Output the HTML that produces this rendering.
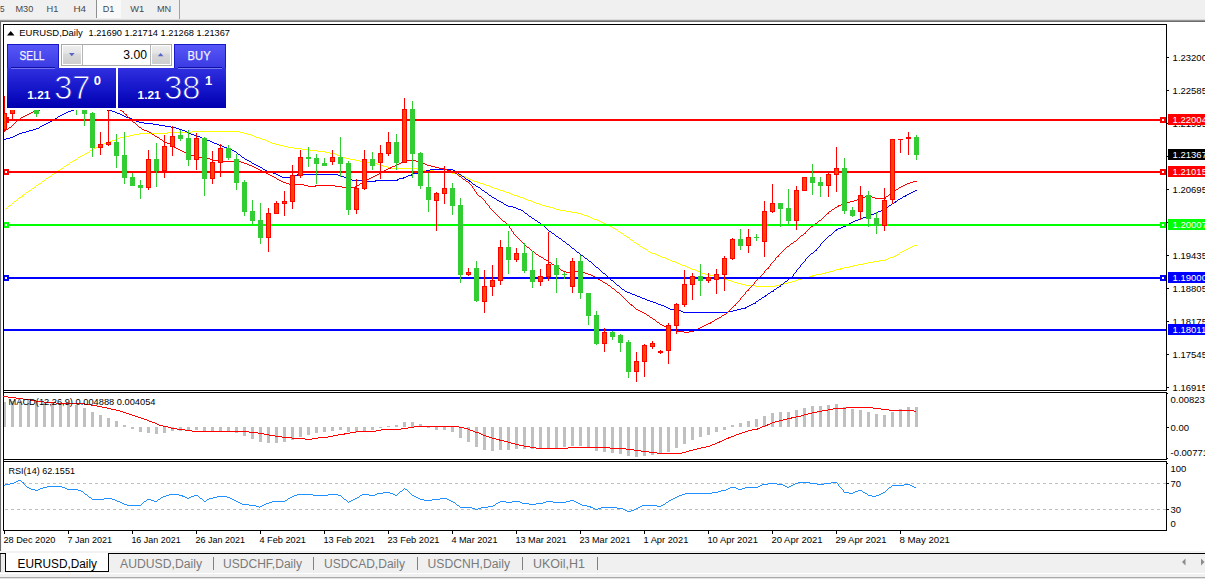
<!DOCTYPE html>
<html><head><meta charset="utf-8"><title>EURUSD,Daily</title>
<style>
html,body{margin:0;padding:0;background:#fff;}
body{width:1205px;height:579px;overflow:hidden;font-family:"Liberation Sans",sans-serif;}
svg{display:block;font-family:"Liberation Sans",sans-serif;}
svg rect{shape-rendering:crispEdges;}
</style></head><body>
<svg width="1205" height="579" viewBox="0 0 1205 579">
<rect x="0" y="0" width="1205" height="579" fill="#ffffff"/>
<rect x="0" y="0" width="1205" height="19" fill="#f0f0f0"/>
<rect x="0" y="19" width="1205" height="1" fill="#dcdcdc"/>
<rect x="0" y="20" width="1205" height="1" fill="#969696"/>
<rect x="0" y="21" width="1205" height="1" fill="#6c6c6c"/>
<rect x="0" y="21" width="1" height="530" fill="#6c6c6c"/>
<rect x="1" y="22" width="1" height="529" fill="#f6f6f6"/>
<rect x="97" y="0" width="24" height="18" fill="#f9f9f9"/>
<rect x="96" y="0" width="1" height="18" fill="#8f8f8f"/>
<rect x="179" y="0" width="1" height="19" fill="#a0a0a0"/>
<text x="0" y="11.8" font-size="9.5" fill="#484848" textLength="4.6" lengthAdjust="spacingAndGlyphs">5</text>
<text x="15.5" y="11.8" font-size="9.5" fill="#484848" textLength="17.8" lengthAdjust="spacingAndGlyphs">M30</text>
<text x="46.5" y="11.8" font-size="9.5" fill="#484848" textLength="11.8" lengthAdjust="spacingAndGlyphs">H1</text>
<text x="73.5" y="11.8" font-size="9.5" fill="#484848" textLength="12.6" lengthAdjust="spacingAndGlyphs">H4</text>
<text x="102.7" y="11.8" font-size="9.5" fill="#484848" textLength="11.6" lengthAdjust="spacingAndGlyphs">D1</text>
<text x="130.2" y="11.8" font-size="9.5" fill="#484848" textLength="13.9" lengthAdjust="spacingAndGlyphs">W1</text>
<text x="156.9" y="11.8" font-size="9.5" fill="#484848" textLength="14.2" lengthAdjust="spacingAndGlyphs">MN</text>
<g id="main">
<g shape-rendering="crispEdges">
<path d="M192 131h48v1h-48zM167 132h25v1h-25zM240 132h4v1h-4zM139 133h29v1h-29zM244 133h3v1h-3zM134 134h5v1h-5zM247 134h4v1h-4zM129 135h5v1h-5zM251 135h3v1h-3zM125 136h4v1h-4zM254 136h2v1h-2zM120 137h5v1h-5zM256 137h3v1h-3zM118 138h2v1h-2zM259 138h3v1h-3zM115 139h3v1h-3zM262 139h3v1h-3zM112 140h4v1h-4zM265 140h2v1h-2zM110 141h2v1h-2zM267 141h3v1h-3zM107 142h3v1h-3zM270 142h2v1h-2zM104 143h3v1h-3zM272 143h3v1h-3zM102 144h2v1h-2zM275 144h4v1h-4zM100 145h2v1h-2zM279 145h5v1h-5zM98 146h2v1h-2zM284 146h4v1h-4zM96 147h2v1h-2zM288 147h6v1h-6zM94 148h2v1h-2zM294 148h8v1h-8zM92 149h2v1h-2zM302 149h8v1h-8zM90 150h3v1h-3zM310 150h7v1h-7zM89 151h1v1h-1zM317 151h8v1h-8zM87 152h2v1h-2zM325 152h5v1h-5zM85 153h2v1h-2zM330 153h5v1h-5zM84 154h1v1h-1zM335 154h2v1h-2zM82 155h2v1h-2zM337 155h3v1h-3zM80 156h2v1h-2zM340 156h2v1h-2zM78 157h2v1h-2zM342 157h3v1h-3zM77 158h1v1h-1zM345 158h5v1h-5zM75 159h2v1h-2zM350 159h5v1h-5zM73 160h3v1h-3zM355 160h5v1h-5zM72 161h1v1h-1zM360 161h6v1h-6zM70 162h2v1h-2zM366 162h6v1h-6zM69 163h1v1h-1zM372 163h5v1h-5zM67 164h2v1h-2zM377 164h3v1h-3zM66 165h1v1h-1zM380 165h3v1h-3zM64 166h2v1h-2zM383 166h4v1h-4zM63 167h1v1h-1zM387 167h5v1h-5zM61 168h2v1h-2zM392 168h25v1h-25zM60 169h1v1h-1zM417 169h5v1h-5zM58 170h2v1h-2zM422 170h12v1h-12zM57 171h1v1h-1zM434 171h9v1h-9zM55 172h2v1h-2zM443 172h9v1h-9zM54 173h2v1h-2zM452 173h5v1h-5zM52 174h2v1h-2zM457 174h3v1h-3zM51 175h1v1h-1zM460 175h2v1h-2zM49 176h2v1h-2zM462 176h3v1h-3zM48 177h1v1h-1zM465 177h2v1h-2zM46 178h2v1h-2zM467 178h2v1h-2zM45 179h1v1h-1zM469 179h3v1h-3zM44 180h1v1h-1zM472 180h2v1h-2zM42 181h2v1h-2zM474 181h3v1h-3zM41 182h1v1h-1zM477 182h3v1h-3zM39 183h2v1h-2zM480 183h3v1h-3zM38 184h1v1h-1zM483 184h3v1h-3zM36 185h2v1h-2zM486 185h3v1h-3zM35 186h1v1h-1zM489 186h2v1h-2zM34 187h2v1h-2zM491 187h3v1h-3zM32 188h2v1h-2zM494 188h3v1h-3zM31 189h1v1h-1zM497 189h3v1h-3zM29 190h2v1h-2zM500 190h3v1h-3zM28 191h1v1h-1zM503 191h3v1h-3zM26 192h2v1h-2zM506 192h3v1h-3zM25 193h1v1h-1zM509 193h2v1h-2zM23 194h2v1h-2zM511 194h3v1h-3zM22 195h1v1h-1zM514 195h3v1h-3zM21 196h2v1h-2zM517 196h3v1h-3zM19 197h2v1h-2zM520 197h3v1h-3zM18 198h1v1h-1zM523 198h2v1h-2zM17 199h1v1h-1zM525 199h3v1h-3zM16 200h1v1h-1zM528 200h3v1h-3zM14 201h2v1h-2zM531 201h2v1h-2zM13 202h1v1h-1zM533 202h3v1h-3zM12 203h1v1h-1zM536 203h3v1h-3zM11 204h1v1h-1zM539 204h3v1h-3zM9 205h2v1h-2zM542 205h3v1h-3zM8 206h1v1h-1zM545 206h4v1h-4zM7 207h1v1h-1zM549 207h4v1h-4zM6 208h1v1h-1zM553 208h3v1h-3zM5 209h1v1h-1zM556 209h4v1h-4zM560 210h6v1h-6zM566 211h5v1h-5zM571 212h6v1h-6zM577 213h4v1h-4zM581 214h3v1h-3zM584 215h3v1h-3zM587 216h3v1h-3zM590 217h2v1h-2zM592 218h2v1h-2zM594 219h3v1h-3zM597 220h2v1h-2zM599 221h2v1h-2zM601 222h2v1h-2zM603 223h3v1h-3zM606 224h2v1h-2zM608 225h2v1h-2zM610 226h2v1h-2zM612 227h1v1h-1zM613 228h2v1h-2zM615 229h2v1h-2zM617 230h1v1h-1zM618 231h2v1h-2zM620 232h1v1h-1zM621 233h2v1h-2zM623 234h1v1h-1zM624 235h2v1h-2zM626 236h1v1h-1zM627 237h2v1h-2zM629 238h1v1h-1zM630 239h1v1h-1zM631 240h2v1h-2zM633 241h1v1h-1zM634 242h2v1h-2zM636 243h1v1h-1zM637 244h2v1h-2zM639 245h1v1h-1zM914 245h3v1h-3zM640 246h2v1h-2zM912 246h2v1h-2zM642 247h1v1h-1zM910 247h2v1h-2zM643 248h2v1h-2zM908 248h2v1h-2zM645 249h2v1h-2zM906 249h2v1h-2zM647 250h1v1h-1zM904 250h2v1h-2zM648 251h2v1h-2zM902 251h2v1h-2zM650 252h2v1h-2zM900 252h2v1h-2zM652 253h3v1h-3zM899 253h1v1h-1zM655 254h2v1h-2zM897 254h2v1h-2zM657 255h3v1h-3zM895 255h2v1h-2zM660 256h2v1h-2zM893 256h3v1h-3zM662 257h3v1h-3zM890 257h3v1h-3zM665 258h2v1h-2zM888 258h2v1h-2zM667 259h3v1h-3zM885 259h3v1h-3zM670 260h2v1h-2zM879 260h7v1h-7zM672 261h3v1h-3zM873 261h6v1h-6zM675 262h2v1h-2zM868 262h5v1h-5zM677 263h3v1h-3zM863 263h5v1h-5zM680 264h2v1h-2zM858 264h5v1h-5zM682 265h3v1h-3zM853 265h5v1h-5zM685 266h2v1h-2zM849 266h4v1h-4zM687 267h3v1h-3zM844 267h5v1h-5zM690 268h2v1h-2zM840 268h4v1h-4zM692 269h3v1h-3zM836 269h5v1h-5zM695 270h2v1h-2zM833 270h3v1h-3zM697 271h3v1h-3zM829 271h4v1h-4zM700 272h2v1h-2zM825 272h4v1h-4zM702 273h3v1h-3zM821 273h5v1h-5zM705 274h5v1h-5zM816 274h5v1h-5zM710 275h5v1h-5zM812 275h4v1h-4zM715 276h3v1h-3zM809 276h4v1h-4zM718 277h4v1h-4zM805 277h4v1h-4zM722 278h3v1h-3zM802 278h3v1h-3zM725 279h3v1h-3zM798 279h4v1h-4zM728 280h3v1h-3zM795 280h3v1h-3zM731 281h3v1h-3zM792 281h3v1h-3zM734 282h3v1h-3zM788 282h4v1h-4zM737 283h4v1h-4zM784 283h4v1h-4zM741 284h4v1h-4zM780 284h4v1h-4zM745 285h10v1h-10zM775 285h6v1h-6zM755 286h20v1h-20z" fill="#ffff00"/>
<path d="M78 106h3v1h-3zM77 107h1v1h-1zM75 108h2v1h-2zM74 109h1v1h-1zM71 110h3v1h-3zM68 111h3v1h-3zM66 112h2v1h-2zM64 113h2v1h-2zM62 114h2v1h-2zM60 115h2v1h-2zM58 116h2v1h-2zM57 117h1v1h-1zM55 118h2v1h-2zM53 119h2v1h-2zM52 120h1v1h-1zM50 121h2v1h-2zM48 122h2v1h-2zM46 123h2v1h-2zM44 124h2v1h-2zM42 125h2v1h-2zM40 126h2v1h-2zM39 127h1v1h-1zM36 128h3v1h-3zM33 129h3v1h-3zM29 130h4v1h-4zM26 131h3v1h-3zM22 132h4v1h-4zM19 133h3v1h-3zM17 134h2v1h-2zM15 135h2v1h-2zM13 136h2v1h-2zM10 137h3v1h-3zM6 138h4v1h-4zM4 139h2v1h-2z" fill="#0000ff"/>
<path d="M100 106h2v1h-2zM102 107h1v1h-1zM103 108h2v1h-2zM105 109h2v1h-2zM107 110h5v1h-5zM112 111h3v1h-3zM115 112h2v1h-2zM117 113h3v1h-3zM120 114h2v1h-2zM122 115h2v1h-2zM124 116h2v1h-2zM126 117h3v1h-3zM129 118h3v1h-3zM131 119h3v1h-3zM134 120h2v1h-2zM136 121h3v1h-3zM139 122h5v1h-5zM144 123h9v1h-9zM153 124h6v1h-6zM159 125h6v1h-6zM165 126h6v1h-6zM171 127h5v1h-5zM176 128h3v1h-3zM179 129h3v1h-3zM182 130h3v1h-3zM185 131h2v1h-2zM187 132h2v1h-2zM189 133h2v1h-2zM191 134h3v1h-3zM194 135h3v1h-3zM197 136h3v1h-3zM200 137h2v1h-2zM202 138h3v1h-3zM205 139h2v1h-2zM207 140h3v1h-3zM210 141h2v1h-2zM212 142h2v1h-2zM214 143h3v1h-3zM217 144h2v1h-2zM219 145h3v1h-3zM222 146h2v1h-2zM224 147h3v1h-3zM227 148h2v1h-2zM229 149h3v1h-3zM232 150h2v1h-2zM234 151h2v1h-2zM236 152h1v1h-1zM237 153h1v1h-1zM238 154h2v1h-2zM240 155h1v1h-1zM241 156h1v1h-1zM242 157h2v1h-2zM244 158h1v1h-1zM245 159h2v1h-2zM247 160h2v1h-2zM249 161h2v1h-2zM251 162h1v1h-1zM252 163h2v1h-2zM254 164h2v1h-2zM256 165h2v1h-2zM258 166h2v1h-2zM260 167h2v1h-2zM262 168h1v1h-1zM263 169h2v1h-2zM430 169h23v1h-23zM265 170h2v1h-2zM426 170h4v1h-4zM453 170h2v1h-2zM267 171h3v1h-3zM422 171h4v1h-4zM455 171h2v1h-2zM270 172h3v1h-3zM419 172h3v1h-3zM457 172h1v1h-1zM273 173h3v1h-3zM413 173h6v1h-6zM458 173h1v1h-1zM276 174h2v1h-2zM297 174h41v1h-41zM411 174h2v1h-2zM459 174h2v1h-2zM278 175h2v1h-2zM294 175h4v1h-4zM338 175h3v1h-3zM408 175h4v1h-4zM461 175h1v1h-1zM280 176h2v1h-2zM291 176h3v1h-3zM341 176h3v1h-3zM406 176h2v1h-2zM462 176h2v1h-2zM282 177h9v1h-9zM344 177h3v1h-3zM403 177h3v1h-3zM464 177h1v1h-1zM347 178h2v1h-2zM399 178h5v1h-5zM465 178h1v1h-1zM349 179h3v1h-3zM397 179h2v1h-2zM466 179h2v1h-2zM352 180h10v1h-10zM375 180h23v1h-23zM468 180h2v1h-2zM362 181h14v1h-14zM469 181h2v1h-2zM471 182h1v1h-1zM472 183h1v1h-1zM473 184h2v1h-2zM475 185h1v1h-1zM476 186h2v1h-2zM478 187h2v1h-2zM480 188h1v1h-1zM481 189h1v1h-1zM482 190h2v1h-2zM915 190h2v1h-2zM484 191h1v1h-1zM913 191h2v1h-2zM485 192h2v1h-2zM911 192h2v1h-2zM487 193h1v1h-1zM909 193h2v1h-2zM488 194h1v1h-1zM907 194h2v1h-2zM489 195h2v1h-2zM905 195h2v1h-2zM491 196h1v1h-1zM903 196h3v1h-3zM492 197h2v1h-2zM902 197h1v1h-1zM494 198h2v1h-2zM900 198h2v1h-2zM496 199h1v1h-1zM898 199h2v1h-2zM497 200h2v1h-2zM897 200h1v1h-1zM499 201h2v1h-2zM895 201h2v1h-2zM501 202h2v1h-2zM894 202h2v1h-2zM503 203h1v1h-1zM892 203h2v1h-2zM504 204h2v1h-2zM891 204h1v1h-1zM506 205h2v1h-2zM889 205h2v1h-2zM508 206h5v1h-5zM888 206h1v1h-1zM513 207h3v1h-3zM886 207h2v1h-2zM516 208h2v1h-2zM885 208h1v1h-1zM518 209h3v1h-3zM883 209h3v1h-3zM521 210h2v1h-2zM881 210h2v1h-2zM523 211h1v1h-1zM878 211h3v1h-3zM524 212h1v1h-1zM876 212h2v1h-2zM525 213h2v1h-2zM874 213h2v1h-2zM527 214h1v1h-1zM871 214h3v1h-3zM528 215h1v1h-1zM869 215h2v1h-2zM529 216h2v1h-2zM866 216h3v1h-3zM531 217h1v1h-1zM863 217h3v1h-3zM532 218h2v1h-2zM861 218h2v1h-2zM534 219h1v1h-1zM858 219h3v1h-3zM535 220h2v1h-2zM855 220h3v1h-3zM537 221h1v1h-1zM853 221h2v1h-2zM538 222h2v1h-2zM851 222h2v1h-2zM540 223h1v1h-1zM849 223h2v1h-2zM541 224h1v1h-1zM847 224h2v1h-2zM542 225h2v1h-2zM845 225h2v1h-2zM544 226h1v1h-1zM843 226h3v1h-3zM545 227h1v1h-1zM841 227h2v1h-2zM546 228h1v1h-1zM838 228h3v1h-3zM547 229h1v1h-1zM836 229h2v1h-2zM548 230h1v1h-1zM835 230h2v1h-2zM549 231h2v1h-2zM834 231h1v1h-1zM551 232h1v1h-1zM833 232h1v1h-1zM552 233h2v1h-2zM832 233h1v1h-1zM554 234h1v1h-1zM831 234h1v1h-1zM555 235h1v1h-1zM829 235h2v1h-2zM556 236h2v1h-2zM828 236h1v1h-1zM558 237h1v1h-1zM827 237h1v1h-1zM559 238h2v1h-2zM826 238h1v1h-1zM561 239h1v1h-1zM825 239h1v1h-1zM562 240h1v1h-1zM824 240h1v1h-1zM563 241h2v1h-2zM823 241h1v1h-1zM565 242h1v1h-1zM822 242h1v1h-1zM566 243h1v1h-1zM821 243h1v1h-1zM567 244h2v1h-2zM820 244h1v1h-1zM569 245h1v1h-1zM820 245h1v1h-1zM570 246h1v1h-1zM819 246h1v1h-1zM571 247h1v1h-1zM818 247h1v1h-1zM572 248h2v1h-2zM817 248h1v1h-1zM574 249h1v1h-1zM816 249h1v1h-1zM575 250h1v1h-1zM815 250h2v1h-2zM576 251h1v1h-1zM814 251h1v1h-1zM577 252h2v1h-2zM813 252h1v1h-1zM579 253h1v1h-1zM811 253h2v1h-2zM580 254h1v1h-1zM810 254h1v1h-1zM581 255h2v1h-2zM809 255h1v1h-1zM583 256h1v1h-1zM808 256h1v1h-1zM584 257h1v1h-1zM807 257h1v1h-1zM585 258h2v1h-2zM806 258h1v1h-1zM587 259h1v1h-1zM805 259h1v1h-1zM588 260h1v1h-1zM805 260h1v1h-1zM589 261h2v1h-2zM804 261h1v1h-1zM591 262h1v1h-1zM803 262h1v1h-1zM592 263h1v1h-1zM802 263h1v1h-1zM593 264h1v1h-1zM801 264h1v1h-1zM594 265h1v1h-1zM800 265h1v1h-1zM595 266h1v1h-1zM800 266h1v1h-1zM596 267h2v1h-2zM799 267h1v1h-1zM598 268h1v1h-1zM798 268h1v1h-1zM599 269h1v1h-1zM797 269h1v1h-1zM600 270h1v1h-1zM796 270h1v1h-1zM601 271h1v1h-1zM796 271h1v1h-1zM602 272h1v1h-1zM795 272h1v1h-1zM603 273h2v1h-2zM794 273h1v1h-1zM605 274h1v1h-1zM793 274h1v1h-1zM606 275h1v1h-1zM793 275h1v1h-1zM607 276h1v1h-1zM792 276h1v1h-1zM608 277h1v1h-1zM791 277h2v1h-2zM609 278h1v1h-1zM789 278h2v1h-2zM610 279h1v1h-1zM788 279h1v1h-1zM611 280h2v1h-2zM787 280h1v1h-1zM613 281h1v1h-1zM785 281h2v1h-2zM614 282h1v1h-1zM784 282h1v1h-1zM615 283h1v1h-1zM783 283h1v1h-1zM616 284h1v1h-1zM781 284h2v1h-2zM617 285h2v1h-2zM780 285h1v1h-1zM619 286h1v1h-1zM779 286h2v1h-2zM620 287h1v1h-1zM777 287h2v1h-2zM621 288h1v1h-1zM776 288h1v1h-1zM622 289h2v1h-2zM774 289h2v1h-2zM624 290h1v1h-1zM773 290h1v1h-1zM625 291h2v1h-2zM771 291h3v1h-3zM627 292h3v1h-3zM770 292h1v1h-1zM630 293h2v1h-2zM768 293h2v1h-2zM632 294h3v1h-3zM767 294h1v1h-1zM635 295h2v1h-2zM765 295h2v1h-2zM637 296h3v1h-3zM764 296h2v1h-2zM640 297h2v1h-2zM762 297h2v1h-2zM642 298h3v1h-3zM761 298h1v1h-1zM645 299h2v1h-2zM759 299h2v1h-2zM647 300h3v1h-3zM758 300h1v1h-1zM650 301h3v1h-3zM756 301h2v1h-2zM653 302h3v1h-3zM755 302h1v1h-1zM656 303h2v1h-2zM753 303h3v1h-3zM658 304h3v1h-3zM751 304h2v1h-2zM661 305h3v1h-3zM749 305h2v1h-2zM664 306h2v1h-2zM747 306h2v1h-2zM666 307h2v1h-2zM745 307h2v1h-2zM668 308h2v1h-2zM741 308h5v1h-5zM670 309h5v1h-5zM737 309h4v1h-4zM675 310h6v1h-6zM733 310h4v1h-4zM681 311h2v1h-2zM728 311h5v1h-5zM683 312h45v1h-45z" fill="#0000ff"/>
<path d="M45 107h4v1h-4zM43 108h2v1h-2zM40 109h3v1h-3zM37 110h3v1h-3zM33 111h4v1h-4zM31 112h2v1h-2zM29 113h2v1h-2zM27 114h2v1h-2zM25 115h2v1h-2zM23 116h2v1h-2zM21 117h2v1h-2zM20 118h1v1h-1zM18 119h2v1h-2zM17 120h1v1h-1zM16 121h1v1h-1zM15 122h1v1h-1zM14 123h1v1h-1zM13 124h1v1h-1zM12 125h1v1h-1zM11 126h1v1h-1zM9 127h2v1h-2zM8 128h1v1h-1zM6 129h2v1h-2zM5 130h1v1h-1zM4 131h1v1h-1z" fill="#ff0000"/>
<path d="M112 105h2v1h-2zM114 106h1v1h-1zM115 107h2v1h-2zM117 108h1v1h-1zM118 109h2v1h-2zM120 110h2v1h-2zM122 111h2v1h-2zM123 112h1v1h-1zM124 113h1v1h-1zM125 114h2v1h-2zM126 115h1v1h-1zM127 116h1v1h-1zM128 117h2v1h-2zM129 118h1v1h-1zM130 119h1v1h-1zM131 120h1v1h-1zM132 121h1v1h-1zM133 122h2v1h-2zM135 123h1v1h-1zM136 124h1v1h-1zM137 125h1v1h-1zM138 126h1v1h-1zM139 127h2v1h-2zM141 128h1v1h-1zM142 129h2v1h-2zM144 130h3v1h-3zM147 131h2v1h-2zM149 132h2v1h-2zM151 133h1v1h-1zM152 134h2v1h-2zM154 135h1v1h-1zM155 136h2v1h-2zM157 137h2v1h-2zM159 138h1v1h-1zM160 139h2v1h-2zM162 140h1v1h-1zM163 141h2v1h-2zM165 142h2v1h-2zM167 143h3v1h-3zM170 144h1v1h-1zM171 145h2v1h-2zM173 146h1v1h-1zM174 147h2v1h-2zM176 148h2v1h-2zM178 149h2v1h-2zM180 150h2v1h-2zM182 151h2v1h-2zM184 152h3v1h-3zM187 153h1v1h-1zM188 154h2v1h-2zM190 155h6v1h-6zM196 156h1v1h-1zM197 157h9v1h-9zM206 158h4v1h-4zM210 159h2v1h-2zM212 160h10v1h-10zM406 160h10v1h-10zM222 161h19v1h-19zM402 161h4v1h-4zM416 161h3v1h-3zM241 162h3v1h-3zM401 162h2v1h-2zM419 162h3v1h-3zM244 163h3v1h-3zM399 163h2v1h-2zM422 163h3v1h-3zM247 164h2v1h-2zM397 164h2v1h-2zM425 164h2v1h-2zM249 165h3v1h-3zM395 165h2v1h-2zM427 165h4v1h-4zM252 166h2v1h-2zM392 166h3v1h-3zM431 166h4v1h-4zM254 167h2v1h-2zM390 167h2v1h-2zM435 167h4v1h-4zM256 168h2v1h-2zM388 168h3v1h-3zM439 168h5v1h-5zM258 169h2v1h-2zM386 169h2v1h-2zM443 169h4v1h-4zM260 170h2v1h-2zM384 170h2v1h-2zM447 170h4v1h-4zM262 171h2v1h-2zM383 171h1v1h-1zM451 171h3v1h-3zM264 172h2v1h-2zM381 172h2v1h-2zM454 172h1v1h-1zM266 173h2v1h-2zM379 173h2v1h-2zM455 173h2v1h-2zM268 174h2v1h-2zM377 174h2v1h-2zM457 174h1v1h-1zM270 175h2v1h-2zM375 175h2v1h-2zM458 175h1v1h-1zM272 176h2v1h-2zM373 176h2v1h-2zM459 176h2v1h-2zM274 177h2v1h-2zM371 177h2v1h-2zM461 177h1v1h-1zM276 178h1v1h-1zM369 178h2v1h-2zM462 178h1v1h-1zM277 179h2v1h-2zM367 179h2v1h-2zM463 179h2v1h-2zM279 180h2v1h-2zM366 180h1v1h-1zM465 180h1v1h-1zM281 181h2v1h-2zM364 181h2v1h-2zM466 181h2v1h-2zM913 181h4v1h-4zM283 182h3v1h-3zM362 182h2v1h-2zM468 182h1v1h-1zM910 182h3v1h-3zM286 183h3v1h-3zM360 183h3v1h-3zM469 183h1v1h-1zM907 183h3v1h-3zM289 184h15v1h-15zM359 184h1v1h-1zM470 184h1v1h-1zM905 184h2v1h-2zM304 185h4v1h-4zM315 185h20v1h-20zM357 185h2v1h-2zM471 185h1v1h-1zM903 185h2v1h-2zM308 186h8v1h-8zM335 186h7v1h-7zM355 186h2v1h-2zM472 186h1v1h-1zM901 186h2v1h-2zM342 187h14v1h-14zM472 187h1v1h-1zM899 187h2v1h-2zM473 188h1v1h-1zM898 188h1v1h-1zM474 189h1v1h-1zM896 189h2v1h-2zM474 190h1v1h-1zM895 190h1v1h-1zM475 191h1v1h-1zM893 191h2v1h-2zM476 192h1v1h-1zM892 192h1v1h-1zM476 193h1v1h-1zM891 193h2v1h-2zM477 194h1v1h-1zM889 194h2v1h-2zM478 195h1v1h-1zM867 195h2v1h-2zM888 195h1v1h-1zM479 196h2v1h-2zM865 196h2v1h-2zM869 196h3v1h-3zM886 196h2v1h-2zM481 197h1v1h-1zM862 197h3v1h-3zM872 197h3v1h-3zM885 197h1v1h-1zM482 198h1v1h-1zM860 198h2v1h-2zM875 198h11v1h-11zM483 199h1v1h-1zM857 199h4v1h-4zM484 200h1v1h-1zM854 200h3v1h-3zM485 201h1v1h-1zM850 201h4v1h-4zM485 202h1v1h-1zM847 202h3v1h-3zM486 203h1v1h-1zM844 203h3v1h-3zM487 204h1v1h-1zM841 204h3v1h-3zM488 205h1v1h-1zM838 205h3v1h-3zM489 206h1v1h-1zM837 206h2v1h-2zM489 207h1v1h-1zM835 207h2v1h-2zM490 208h1v1h-1zM834 208h1v1h-1zM491 209h1v1h-1zM832 209h2v1h-2zM492 210h1v1h-1zM831 210h1v1h-1zM493 211h1v1h-1zM829 211h2v1h-2zM494 212h1v1h-1zM828 212h1v1h-1zM495 213h1v1h-1zM827 213h2v1h-2zM496 214h1v1h-1zM826 214h1v1h-1zM497 215h1v1h-1zM825 215h1v1h-1zM498 216h1v1h-1zM824 216h1v1h-1zM499 217h1v1h-1zM823 217h1v1h-1zM500 218h1v1h-1zM822 218h1v1h-1zM501 219h1v1h-1zM821 219h1v1h-1zM502 220h1v1h-1zM819 220h2v1h-2zM503 221h2v1h-2zM818 221h1v1h-1zM505 222h1v1h-1zM817 222h1v1h-1zM506 223h1v1h-1zM815 223h2v1h-2zM507 224h1v1h-1zM814 224h1v1h-1zM508 225h1v1h-1zM813 225h1v1h-1zM509 226h1v1h-1zM811 226h2v1h-2zM509 227h1v1h-1zM810 227h1v1h-1zM510 228h1v1h-1zM809 228h1v1h-1zM511 229h1v1h-1zM808 229h1v1h-1zM511 230h1v1h-1zM807 230h1v1h-1zM512 231h1v1h-1zM806 231h1v1h-1zM513 232h1v1h-1zM805 232h1v1h-1zM513 233h1v1h-1zM804 233h2v1h-2zM514 234h1v1h-1zM803 234h1v1h-1zM515 235h1v1h-1zM801 235h2v1h-2zM516 236h1v1h-1zM800 236h1v1h-1zM517 237h1v1h-1zM799 237h1v1h-1zM518 238h1v1h-1zM798 238h1v1h-1zM519 239h1v1h-1zM797 239h1v1h-1zM520 240h1v1h-1zM796 240h1v1h-1zM521 241h1v1h-1zM794 241h2v1h-2zM522 242h1v1h-1zM793 242h1v1h-1zM523 243h1v1h-1zM791 243h2v1h-2zM524 244h1v1h-1zM790 244h1v1h-1zM525 245h1v1h-1zM789 245h1v1h-1zM526 246h1v1h-1zM787 246h2v1h-2zM527 247h2v1h-2zM786 247h1v1h-1zM529 248h1v1h-1zM785 248h1v1h-1zM530 249h1v1h-1zM784 249h1v1h-1zM531 250h1v1h-1zM783 250h1v1h-1zM532 251h2v1h-2zM782 251h1v1h-1zM534 252h1v1h-1zM781 252h1v1h-1zM535 253h1v1h-1zM780 253h1v1h-1zM536 254h2v1h-2zM779 254h1v1h-1zM538 255h1v1h-1zM778 255h1v1h-1zM539 256h2v1h-2zM777 256h2v1h-2zM541 257h2v1h-2zM776 257h1v1h-1zM543 258h1v1h-1zM775 258h1v1h-1zM544 259h2v1h-2zM775 259h1v1h-1zM546 260h2v1h-2zM774 260h1v1h-1zM548 261h1v1h-1zM773 261h1v1h-1zM549 262h2v1h-2zM772 262h1v1h-1zM551 263h1v1h-1zM771 263h1v1h-1zM552 264h2v1h-2zM770 264h1v1h-1zM554 265h1v1h-1zM770 265h1v1h-1zM555 266h2v1h-2zM769 266h1v1h-1zM557 267h1v1h-1zM768 267h1v1h-1zM558 268h2v1h-2zM767 268h2v1h-2zM560 269h1v1h-1zM766 269h1v1h-1zM561 270h2v1h-2zM765 270h1v1h-1zM563 271h3v1h-3zM570 271h10v1h-10zM764 271h1v1h-1zM566 272h4v1h-4zM580 272h5v1h-5zM764 272h1v1h-1zM585 273h3v1h-3zM763 273h1v1h-1zM588 274h3v1h-3zM762 274h1v1h-1zM591 275h2v1h-2zM761 275h1v1h-1zM593 276h2v1h-2zM760 276h1v1h-1zM595 277h1v1h-1zM759 277h2v1h-2zM596 278h2v1h-2zM758 278h1v1h-1zM598 279h2v1h-2zM757 279h1v1h-1zM600 280h2v1h-2zM756 280h1v1h-1zM602 281h1v1h-1zM755 281h1v1h-1zM603 282h2v1h-2zM754 282h1v1h-1zM605 283h2v1h-2zM754 283h1v1h-1zM607 284h1v1h-1zM753 284h1v1h-1zM608 285h2v1h-2zM752 285h1v1h-1zM610 286h1v1h-1zM751 286h1v1h-1zM611 287h1v1h-1zM750 287h1v1h-1zM612 288h2v1h-2zM749 288h1v1h-1zM614 289h1v1h-1zM748 289h1v1h-1zM615 290h1v1h-1zM747 290h2v1h-2zM616 291h1v1h-1zM746 291h1v1h-1zM617 292h2v1h-2zM745 292h1v1h-1zM619 293h1v1h-1zM745 293h1v1h-1zM620 294h1v1h-1zM744 294h1v1h-1zM621 295h1v1h-1zM743 295h1v1h-1zM622 296h1v1h-1zM742 296h1v1h-1zM623 297h1v1h-1zM741 297h1v1h-1zM624 298h1v1h-1zM740 298h1v1h-1zM625 299h1v1h-1zM740 299h1v1h-1zM626 300h1v1h-1zM739 300h1v1h-1zM627 301h1v1h-1zM738 301h1v1h-1zM628 302h1v1h-1zM737 302h1v1h-1zM629 303h1v1h-1zM736 303h1v1h-1zM630 304h2v1h-2zM735 304h1v1h-1zM631 305h2v1h-2zM734 305h2v1h-2zM633 306h1v1h-1zM733 306h1v1h-1zM634 307h1v1h-1zM732 307h1v1h-1zM635 308h1v1h-1zM731 308h1v1h-1zM636 309h2v1h-2zM730 309h1v1h-1zM638 310h2v1h-2zM729 310h1v1h-1zM640 311h2v1h-2zM728 311h1v1h-1zM642 312h2v1h-2zM727 312h1v1h-1zM644 313h2v1h-2zM726 313h1v1h-1zM646 314h1v1h-1zM724 314h2v1h-2zM647 315h2v1h-2zM722 315h2v1h-2zM649 316h1v1h-1zM721 316h1v1h-1zM650 317h2v1h-2zM719 317h2v1h-2zM652 318h1v1h-1zM717 318h2v1h-2zM653 319h2v1h-2zM715 319h2v1h-2zM655 320h1v1h-1zM714 320h1v1h-1zM656 321h1v1h-1zM712 321h2v1h-2zM657 322h2v1h-2zM710 322h2v1h-2zM659 323h1v1h-1zM708 323h3v1h-3zM660 324h2v1h-2zM706 324h2v1h-2zM662 325h2v1h-2zM704 325h2v1h-2zM664 326h3v1h-3zM702 326h2v1h-2zM667 327h2v1h-2zM700 327h2v1h-2zM669 328h2v1h-2zM698 328h2v1h-2zM671 329h3v1h-3zM696 329h2v1h-2zM674 330h3v1h-3zM694 330h3v1h-3zM677 331h7v1h-7zM689 331h5v1h-5zM684 332h5v1h-5z" fill="#ff0000"/>
</g>
<rect x="4" y="119" width="1162" height="2" fill="#ff0000"/>
<rect x="3" y="117" width="6" height="6" fill="#ff0000"/>
<rect x="5" y="119" width="2" height="2" fill="#ffffff"/>
<rect x="1160" y="117" width="6" height="6" fill="#ff0000"/>
<rect x="1162" y="119" width="2" height="2" fill="#ffffff"/>
<rect x="4" y="171" width="1162" height="2" fill="#ff0000"/>
<rect x="3" y="169" width="6" height="6" fill="#ff0000"/>
<rect x="5" y="171" width="2" height="2" fill="#ffffff"/>
<rect x="1160" y="169" width="6" height="6" fill="#ff0000"/>
<rect x="1162" y="171" width="2" height="2" fill="#ffffff"/>
<rect x="4" y="224" width="1162" height="2" fill="#00ff00"/>
<rect x="3" y="222" width="6" height="6" fill="#00ff00"/>
<rect x="5" y="224" width="2" height="2" fill="#ffffff"/>
<rect x="1160" y="222" width="6" height="6" fill="#00ff00"/>
<rect x="1162" y="224" width="2" height="2" fill="#ffffff"/>
<rect x="4" y="277" width="1162" height="2" fill="#0000ff"/>
<rect x="3" y="275" width="6" height="6" fill="#0000ff"/>
<rect x="5" y="277" width="2" height="2" fill="#ffffff"/>
<rect x="1160" y="275" width="6" height="6" fill="#0000ff"/>
<rect x="1162" y="277" width="2" height="2" fill="#ffffff"/>
<rect x="4" y="329" width="1162" height="2" fill="#0000ff"/>
<rect x="4" y="96" width="1" height="36" fill="#ff0000"/>
<rect x="4" y="113" width="3" height="17" fill="#ff0000"/>
<rect x="4" y="114" width="2" height="15" fill="#ff4500"/>
<rect x="12" y="104" width="1" height="15" fill="#ff0000"/>
<rect x="10" y="106" width="5" height="8" fill="#ff0000"/>
<rect x="11" y="107" width="3" height="6" fill="#ff4500"/>
<rect x="36" y="105" width="1" height="12" fill="#32cd32"/>
<rect x="34" y="106" width="5" height="8" fill="#32cd32"/>
<rect x="76" y="100" width="1" height="15" fill="#32cd32"/>
<rect x="74" y="101" width="5" height="2" fill="#32cd32"/>
<rect x="84" y="100" width="1" height="26" fill="#32cd32"/>
<rect x="82" y="100" width="5" height="14" fill="#32cd32"/>
<rect x="92" y="112" width="1" height="45" fill="#32cd32"/>
<rect x="90" y="113" width="5" height="35" fill="#32cd32"/>
<rect x="100" y="132" width="1" height="23" fill="#ff0000"/>
<rect x="98" y="144" width="5" height="4" fill="#ff0000"/>
<rect x="99" y="145" width="3" height="2" fill="#ff4500"/>
<rect x="108" y="105" width="1" height="41" fill="#ff0000"/>
<rect x="106" y="142" width="5" height="3" fill="#ff0000"/>
<rect x="107" y="143" width="3" height="1" fill="#ff4500"/>
<rect x="116" y="134" width="1" height="34" fill="#32cd32"/>
<rect x="114" y="142" width="5" height="14" fill="#32cd32"/>
<rect x="124" y="132" width="1" height="52" fill="#32cd32"/>
<rect x="122" y="155" width="5" height="23" fill="#32cd32"/>
<rect x="132" y="173" width="1" height="13" fill="#32cd32"/>
<rect x="130" y="177" width="5" height="9" fill="#32cd32"/>
<rect x="140" y="180" width="1" height="19" fill="#32cd32"/>
<rect x="138" y="185" width="5" height="3" fill="#32cd32"/>
<rect x="148" y="150" width="1" height="40" fill="#ff0000"/>
<rect x="146" y="159" width="5" height="29" fill="#ff0000"/>
<rect x="147" y="160" width="3" height="27" fill="#ff4500"/>
<rect x="156" y="143" width="1" height="44" fill="#32cd32"/>
<rect x="154" y="159" width="5" height="12" fill="#32cd32"/>
<rect x="164" y="135" width="1" height="43" fill="#ff0000"/>
<rect x="162" y="146" width="5" height="25" fill="#ff0000"/>
<rect x="163" y="147" width="3" height="23" fill="#ff4500"/>
<rect x="172" y="126" width="1" height="30" fill="#ff0000"/>
<rect x="170" y="136" width="5" height="11" fill="#ff0000"/>
<rect x="171" y="137" width="3" height="9" fill="#ff4500"/>
<rect x="180" y="130" width="1" height="11" fill="#32cd32"/>
<rect x="178" y="135" width="5" height="4" fill="#32cd32"/>
<rect x="188" y="130" width="1" height="36" fill="#32cd32"/>
<rect x="186" y="138" width="5" height="22" fill="#32cd32"/>
<rect x="196" y="133" width="1" height="37" fill="#ff0000"/>
<rect x="194" y="138" width="5" height="22" fill="#ff0000"/>
<rect x="195" y="139" width="3" height="20" fill="#ff4500"/>
<rect x="204" y="137" width="1" height="59" fill="#32cd32"/>
<rect x="202" y="138" width="5" height="41" fill="#32cd32"/>
<rect x="212" y="151" width="1" height="33" fill="#ff0000"/>
<rect x="210" y="162" width="5" height="17" fill="#ff0000"/>
<rect x="211" y="163" width="3" height="15" fill="#ff4500"/>
<rect x="220" y="144" width="1" height="33" fill="#ff0000"/>
<rect x="218" y="148" width="5" height="15" fill="#ff0000"/>
<rect x="219" y="149" width="3" height="13" fill="#ff4500"/>
<rect x="228" y="145" width="1" height="15" fill="#32cd32"/>
<rect x="226" y="148" width="5" height="10" fill="#32cd32"/>
<rect x="236" y="154" width="1" height="36" fill="#32cd32"/>
<rect x="234" y="159" width="5" height="24" fill="#32cd32"/>
<rect x="244" y="180" width="1" height="36" fill="#32cd32"/>
<rect x="242" y="182" width="5" height="30" fill="#32cd32"/>
<rect x="252" y="200" width="1" height="25" fill="#32cd32"/>
<rect x="250" y="211" width="5" height="10" fill="#32cd32"/>
<rect x="260" y="203" width="1" height="41" fill="#32cd32"/>
<rect x="258" y="220" width="5" height="18" fill="#32cd32"/>
<rect x="268" y="208" width="1" height="44" fill="#ff0000"/>
<rect x="266" y="213" width="5" height="25" fill="#ff0000"/>
<rect x="267" y="214" width="3" height="23" fill="#ff4500"/>
<rect x="276" y="201" width="1" height="13" fill="#ff0000"/>
<rect x="274" y="203" width="5" height="11" fill="#ff0000"/>
<rect x="275" y="204" width="3" height="9" fill="#ff4500"/>
<rect x="284" y="191" width="1" height="25" fill="#ff0000"/>
<rect x="282" y="201" width="5" height="3" fill="#ff0000"/>
<rect x="283" y="202" width="3" height="1" fill="#ff4500"/>
<rect x="292" y="165" width="1" height="44" fill="#ff0000"/>
<rect x="290" y="175" width="5" height="27" fill="#ff0000"/>
<rect x="291" y="176" width="3" height="25" fill="#ff4500"/>
<rect x="300" y="150" width="1" height="28" fill="#ff0000"/>
<rect x="298" y="157" width="5" height="19" fill="#ff0000"/>
<rect x="299" y="158" width="3" height="17" fill="#ff4500"/>
<rect x="308" y="147" width="1" height="20" fill="#32cd32"/>
<rect x="306" y="157" width="5" height="2" fill="#32cd32"/>
<rect x="316" y="154" width="1" height="30" fill="#32cd32"/>
<rect x="314" y="158" width="5" height="6" fill="#32cd32"/>
<rect x="324" y="158" width="1" height="8" fill="#32cd32"/>
<rect x="322" y="163" width="5" height="3" fill="#32cd32"/>
<rect x="332" y="150" width="1" height="15" fill="#ff0000"/>
<rect x="330" y="157" width="5" height="5" fill="#ff0000"/>
<rect x="331" y="158" width="3" height="3" fill="#ff4500"/>
<rect x="340" y="137" width="1" height="40" fill="#32cd32"/>
<rect x="338" y="157" width="5" height="7" fill="#32cd32"/>
<rect x="348" y="161" width="1" height="54" fill="#32cd32"/>
<rect x="346" y="163" width="5" height="47" fill="#32cd32"/>
<rect x="356" y="179" width="1" height="35" fill="#ff0000"/>
<rect x="354" y="188" width="5" height="22" fill="#ff0000"/>
<rect x="355" y="189" width="3" height="20" fill="#ff4500"/>
<rect x="364" y="150" width="1" height="40" fill="#ff0000"/>
<rect x="362" y="159" width="5" height="30" fill="#ff0000"/>
<rect x="363" y="160" width="3" height="28" fill="#ff4500"/>
<rect x="372" y="152" width="1" height="18" fill="#32cd32"/>
<rect x="370" y="159" width="5" height="7" fill="#32cd32"/>
<rect x="380" y="145" width="1" height="34" fill="#ff0000"/>
<rect x="378" y="153" width="5" height="10" fill="#ff0000"/>
<rect x="379" y="154" width="3" height="8" fill="#ff4500"/>
<rect x="388" y="132" width="1" height="24" fill="#ff0000"/>
<rect x="386" y="142" width="5" height="12" fill="#ff0000"/>
<rect x="387" y="143" width="3" height="10" fill="#ff4500"/>
<rect x="396" y="134" width="1" height="36" fill="#32cd32"/>
<rect x="394" y="142" width="5" height="21" fill="#32cd32"/>
<rect x="404" y="98" width="1" height="65" fill="#ff0000"/>
<rect x="402" y="109" width="5" height="54" fill="#ff0000"/>
<rect x="403" y="110" width="3" height="52" fill="#ff4500"/>
<rect x="412" y="101" width="1" height="77" fill="#32cd32"/>
<rect x="410" y="109" width="5" height="45" fill="#32cd32"/>
<rect x="420" y="152" width="1" height="37" fill="#32cd32"/>
<rect x="418" y="153" width="5" height="33" fill="#32cd32"/>
<rect x="428" y="173" width="1" height="39" fill="#32cd32"/>
<rect x="426" y="187" width="5" height="13" fill="#32cd32"/>
<rect x="436" y="192" width="1" height="39" fill="#ff0000"/>
<rect x="434" y="193" width="5" height="8" fill="#ff0000"/>
<rect x="435" y="194" width="3" height="6" fill="#ff4500"/>
<rect x="444" y="166" width="1" height="38" fill="#ff0000"/>
<rect x="442" y="188" width="5" height="6" fill="#ff0000"/>
<rect x="443" y="189" width="3" height="4" fill="#ff4500"/>
<rect x="452" y="183" width="1" height="32" fill="#32cd32"/>
<rect x="450" y="188" width="5" height="18" fill="#32cd32"/>
<rect x="460" y="198" width="1" height="85" fill="#32cd32"/>
<rect x="458" y="205" width="5" height="70" fill="#32cd32"/>
<rect x="468" y="268" width="1" height="8" fill="#ff0000"/>
<rect x="466" y="272" width="5" height="3" fill="#ff0000"/>
<rect x="467" y="273" width="3" height="1" fill="#ff4500"/>
<rect x="476" y="261" width="1" height="41" fill="#32cd32"/>
<rect x="474" y="268" width="5" height="33" fill="#32cd32"/>
<rect x="484" y="270" width="1" height="43" fill="#ff0000"/>
<rect x="482" y="286" width="5" height="16" fill="#ff0000"/>
<rect x="483" y="287" width="3" height="14" fill="#ff4500"/>
<rect x="492" y="265" width="1" height="31" fill="#ff0000"/>
<rect x="490" y="280" width="5" height="7" fill="#ff0000"/>
<rect x="491" y="281" width="3" height="5" fill="#ff4500"/>
<rect x="500" y="240" width="1" height="45" fill="#ff0000"/>
<rect x="498" y="247" width="5" height="34" fill="#ff0000"/>
<rect x="499" y="248" width="3" height="32" fill="#ff4500"/>
<rect x="508" y="231" width="1" height="43" fill="#32cd32"/>
<rect x="506" y="247" width="5" height="13" fill="#32cd32"/>
<rect x="516" y="248" width="1" height="14" fill="#ff0000"/>
<rect x="514" y="253" width="5" height="7" fill="#ff0000"/>
<rect x="515" y="254" width="3" height="5" fill="#ff4500"/>
<rect x="524" y="243" width="1" height="30" fill="#32cd32"/>
<rect x="522" y="253" width="5" height="18" fill="#32cd32"/>
<rect x="532" y="251" width="1" height="37" fill="#32cd32"/>
<rect x="530" y="270" width="5" height="12" fill="#32cd32"/>
<rect x="540" y="269" width="1" height="17" fill="#ff0000"/>
<rect x="538" y="276" width="5" height="6" fill="#ff0000"/>
<rect x="539" y="277" width="3" height="4" fill="#ff4500"/>
<rect x="548" y="232" width="1" height="49" fill="#ff0000"/>
<rect x="546" y="264" width="5" height="13" fill="#ff0000"/>
<rect x="547" y="265" width="3" height="11" fill="#ff4500"/>
<rect x="556" y="258" width="1" height="35" fill="#32cd32"/>
<rect x="554" y="265" width="5" height="10" fill="#32cd32"/>
<rect x="564" y="272" width="1" height="7" fill="#32cd32"/>
<rect x="562" y="274" width="5" height="1" fill="#32cd32"/>
<rect x="572" y="258" width="1" height="35" fill="#ff0000"/>
<rect x="570" y="261" width="5" height="26" fill="#ff0000"/>
<rect x="571" y="262" width="3" height="24" fill="#ff4500"/>
<rect x="580" y="255" width="1" height="44" fill="#32cd32"/>
<rect x="578" y="261" width="5" height="32" fill="#32cd32"/>
<rect x="588" y="293" width="1" height="32" fill="#32cd32"/>
<rect x="586" y="293" width="5" height="23" fill="#32cd32"/>
<rect x="596" y="311" width="1" height="34" fill="#32cd32"/>
<rect x="594" y="315" width="5" height="29" fill="#32cd32"/>
<rect x="604" y="328" width="1" height="24" fill="#ff0000"/>
<rect x="602" y="332" width="5" height="12" fill="#ff0000"/>
<rect x="603" y="333" width="3" height="10" fill="#ff4500"/>
<rect x="612" y="331" width="1" height="9" fill="#32cd32"/>
<rect x="610" y="332" width="5" height="5" fill="#32cd32"/>
<rect x="620" y="334" width="1" height="18" fill="#32cd32"/>
<rect x="618" y="335" width="5" height="8" fill="#32cd32"/>
<rect x="628" y="340" width="1" height="38" fill="#32cd32"/>
<rect x="626" y="342" width="5" height="30" fill="#32cd32"/>
<rect x="636" y="352" width="1" height="30" fill="#ff0000"/>
<rect x="634" y="361" width="5" height="11" fill="#ff0000"/>
<rect x="635" y="362" width="3" height="9" fill="#ff4500"/>
<rect x="644" y="344" width="1" height="33" fill="#ff0000"/>
<rect x="642" y="345" width="5" height="17" fill="#ff0000"/>
<rect x="643" y="346" width="3" height="15" fill="#ff4500"/>
<rect x="652" y="341" width="1" height="8" fill="#ff0000"/>
<rect x="650" y="343" width="5" height="4" fill="#ff0000"/>
<rect x="651" y="344" width="3" height="2" fill="#ff4500"/>
<rect x="660" y="350" width="1" height="4" fill="#ff0000"/>
<rect x="658" y="351" width="5" height="2" fill="#ff0000"/>
<rect x="668" y="323" width="1" height="41" fill="#ff0000"/>
<rect x="666" y="325" width="5" height="26" fill="#ff0000"/>
<rect x="667" y="326" width="3" height="24" fill="#ff4500"/>
<rect x="676" y="303" width="1" height="31" fill="#ff0000"/>
<rect x="674" y="304" width="5" height="22" fill="#ff0000"/>
<rect x="675" y="305" width="3" height="20" fill="#ff4500"/>
<rect x="684" y="270" width="1" height="37" fill="#ff0000"/>
<rect x="682" y="284" width="5" height="21" fill="#ff0000"/>
<rect x="683" y="285" width="3" height="19" fill="#ff4500"/>
<rect x="692" y="273" width="1" height="27" fill="#ff0000"/>
<rect x="690" y="276" width="5" height="9" fill="#ff0000"/>
<rect x="691" y="277" width="3" height="7" fill="#ff4500"/>
<rect x="700" y="264" width="1" height="32" fill="#32cd32"/>
<rect x="698" y="276" width="5" height="5" fill="#32cd32"/>
<rect x="708" y="273" width="1" height="10" fill="#ff0000"/>
<rect x="706" y="277" width="5" height="4" fill="#ff0000"/>
<rect x="707" y="278" width="3" height="2" fill="#ff4500"/>
<rect x="716" y="269" width="1" height="25" fill="#ff0000"/>
<rect x="714" y="274" width="5" height="6" fill="#ff0000"/>
<rect x="715" y="275" width="3" height="4" fill="#ff4500"/>
<rect x="724" y="256" width="1" height="35" fill="#ff0000"/>
<rect x="722" y="258" width="5" height="17" fill="#ff0000"/>
<rect x="723" y="259" width="3" height="15" fill="#ff4500"/>
<rect x="732" y="238" width="1" height="22" fill="#ff0000"/>
<rect x="730" y="239" width="5" height="20" fill="#ff0000"/>
<rect x="731" y="240" width="3" height="18" fill="#ff4500"/>
<rect x="740" y="229" width="1" height="21" fill="#32cd32"/>
<rect x="738" y="239" width="5" height="7" fill="#32cd32"/>
<rect x="748" y="229" width="1" height="24" fill="#ff0000"/>
<rect x="746" y="237" width="5" height="9" fill="#ff0000"/>
<rect x="747" y="238" width="3" height="7" fill="#ff4500"/>
<rect x="756" y="234" width="1" height="7" fill="#32cd32"/>
<rect x="754" y="237" width="5" height="1" fill="#32cd32"/>
<rect x="764" y="201" width="1" height="56" fill="#ff0000"/>
<rect x="762" y="211" width="5" height="31" fill="#ff0000"/>
<rect x="763" y="212" width="3" height="29" fill="#ff4500"/>
<rect x="772" y="184" width="1" height="29" fill="#ff0000"/>
<rect x="770" y="203" width="5" height="9" fill="#ff0000"/>
<rect x="771" y="204" width="3" height="7" fill="#ff4500"/>
<rect x="780" y="203" width="1" height="24" fill="#32cd32"/>
<rect x="778" y="203" width="5" height="6" fill="#32cd32"/>
<rect x="788" y="189" width="1" height="36" fill="#32cd32"/>
<rect x="786" y="208" width="5" height="13" fill="#32cd32"/>
<rect x="796" y="186" width="1" height="44" fill="#ff0000"/>
<rect x="794" y="190" width="5" height="31" fill="#ff0000"/>
<rect x="795" y="191" width="3" height="29" fill="#ff4500"/>
<rect x="804" y="177" width="1" height="14" fill="#ff0000"/>
<rect x="802" y="177" width="5" height="14" fill="#ff0000"/>
<rect x="803" y="178" width="3" height="12" fill="#ff4500"/>
<rect x="812" y="164" width="1" height="31" fill="#32cd32"/>
<rect x="810" y="177" width="5" height="6" fill="#32cd32"/>
<rect x="820" y="177" width="1" height="20" fill="#32cd32"/>
<rect x="818" y="182" width="5" height="4" fill="#32cd32"/>
<rect x="828" y="173" width="1" height="24" fill="#ff0000"/>
<rect x="826" y="174" width="5" height="12" fill="#ff0000"/>
<rect x="827" y="175" width="3" height="10" fill="#ff4500"/>
<rect x="836" y="147" width="1" height="45" fill="#ff0000"/>
<rect x="834" y="168" width="5" height="7" fill="#ff0000"/>
<rect x="835" y="169" width="3" height="5" fill="#ff4500"/>
<rect x="844" y="158" width="1" height="56" fill="#32cd32"/>
<rect x="842" y="168" width="5" height="43" fill="#32cd32"/>
<rect x="852" y="207" width="1" height="10" fill="#32cd32"/>
<rect x="850" y="210" width="5" height="6" fill="#32cd32"/>
<rect x="860" y="186" width="1" height="34" fill="#ff0000"/>
<rect x="858" y="195" width="5" height="17" fill="#ff0000"/>
<rect x="859" y="196" width="3" height="15" fill="#ff4500"/>
<rect x="868" y="191" width="1" height="36" fill="#32cd32"/>
<rect x="866" y="195" width="5" height="24" fill="#32cd32"/>
<rect x="876" y="212" width="1" height="22" fill="#32cd32"/>
<rect x="874" y="218" width="5" height="8" fill="#32cd32"/>
<rect x="884" y="188" width="1" height="43" fill="#ff0000"/>
<rect x="882" y="200" width="5" height="26" fill="#ff0000"/>
<rect x="883" y="201" width="3" height="24" fill="#ff4500"/>
<rect x="892" y="139" width="1" height="65" fill="#ff0000"/>
<rect x="890" y="139" width="5" height="61" fill="#ff0000"/>
<rect x="891" y="140" width="3" height="59" fill="#ff4500"/>
<rect x="900" y="139" width="1" height="14" fill="#ff0000"/>
<rect x="898" y="139" width="5" height="1" fill="#ff0000"/>
<rect x="908" y="132" width="1" height="23" fill="#ff0000"/>
<rect x="906" y="137" width="5" height="2" fill="#ff0000"/>
<rect x="916" y="135" width="1" height="25" fill="#32cd32"/>
<rect x="914" y="137" width="5" height="18" fill="#32cd32"/>
</g>
<defs>
<linearGradient id="gTop" x1="0" y1="0" x2="0" y2="1"><stop offset="0" stop-color="#5656f8"/><stop offset="1" stop-color="#3a3ae2"/></linearGradient>
<linearGradient id="gBot" gradientUnits="userSpaceOnUse" x1="0" y1="68" x2="0" y2="108"><stop offset="0" stop-color="#3030e0"/><stop offset="0.55" stop-color="#1414c8"/><stop offset="1" stop-color="#0000b0"/></linearGradient>
<linearGradient id="gBtn" x1="0" y1="0" x2="0" y2="1"><stop offset="0" stop-color="#eeeeee"/><stop offset="0.4" stop-color="#e4e4e4"/><stop offset="0.45" stop-color="#d9d9d9"/><stop offset="1" stop-color="#cecece"/></linearGradient>
</defs>
<rect x="7" y="25" width="221" height="85" fill="#ffffff"/>
<rect x="7" y="44" width="52" height="24" fill="#1818c4"/>
<rect x="8" y="45" width="50" height="23" fill="url(#gTop)"/>
<rect x="11" y="67" width="44" height="1" fill="#1010a4"/>
<rect x="174" y="44" width="52" height="24" fill="#1818c4"/>
<rect x="175" y="45" width="50" height="23" fill="url(#gTop)"/>
<rect x="178" y="67" width="44" height="1" fill="#1010a4"/>
<rect x="7" y="68" width="109" height="40" fill="url(#gBot)"/>
<rect x="118" y="68" width="108" height="40" fill="url(#gBot)"/>
<rect x="11" y="68" width="44" height="1" fill="#7474f2"/>
<rect x="178" y="68" width="44" height="1" fill="#7474f2"/>
<rect x="61" y="44" width="111" height="22" fill="#a8a8a8"/>
<rect x="62" y="45" width="109" height="20" fill="#ffffff"/>
<rect x="63" y="46" width="18" height="18" fill="url(#gBtn)"/>
<rect x="152" y="46" width="18" height="18" fill="url(#gBtn)"/>
<rect x="82" y="45" width="1" height="20" fill="#b4b4b4"/>
<rect x="150" y="45" width="1" height="20" fill="#b4b4b4"/>
<polygon points="69,53 74.6,53 71.8,56.3" fill="#5464c8" shape-rendering="auto"/>
<polygon points="157.8,56.2 163.4,56.2 160.6,52.9" fill="#5464c8" shape-rendering="auto"/>
<text x="123.3" y="58.8" font-size="12.3" fill="#000" textLength="23.6" lengthAdjust="spacingAndGlyphs">3.00</text>
<text x="19.5" y="59.9" font-size="12.5" fill="#f2f2ff" textLength="25" lengthAdjust="spacingAndGlyphs" stroke="#f2f2ff" stroke-width="0.25">SELL</text>
<text x="187.6" y="59.9" font-size="12.5" fill="#f2f2ff" textLength="23" lengthAdjust="spacingAndGlyphs" stroke="#f2f2ff" stroke-width="0.25">BUY</text>
<text x="27.3" y="98.6" font-size="11.5" fill="#ffffff" font-weight="bold" textLength="23" lengthAdjust="spacingAndGlyphs">1.21</text>
<text x="137.6" y="98.6" font-size="11.5" fill="#ffffff" font-weight="bold" textLength="23" lengthAdjust="spacingAndGlyphs">1.21</text>
<text x="54.2" y="98.9" font-size="33.4" fill="#ffffff" textLength="36.2" lengthAdjust="spacingAndGlyphs" stroke="url(#gBot)" stroke-width="0.9" paint-order="fill stroke">37</text>
<text x="164.2" y="98.9" font-size="33.4" fill="#ffffff" textLength="36.2" lengthAdjust="spacingAndGlyphs" stroke="url(#gBot)" stroke-width="0.9" paint-order="fill stroke">38</text>
<text x="93.8" y="84.5" font-size="13" fill="#ffffff" font-weight="bold">0</text>
<text x="205" y="84.5" font-size="13" fill="#ffffff" font-weight="bold">1</text>
<polygon points="7,35.5 14.5,35.5 10.75,31" fill="#000" shape-rendering="auto"/>
<text x="19.3" y="35.8" font-size="9.5" fill="#000" textLength="63.5" lengthAdjust="spacingAndGlyphs">EURUSD,Daily</text>
<text x="88.5" y="35.8" font-size="9.5" fill="#000" textLength="141.5" lengthAdjust="spacingAndGlyphs">1.21690 1.21714 1.21268 1.21367</text>
<rect x="3" y="24" width="1164" height="1" fill="#000000"/>
<rect x="3" y="24" width="1" height="507" fill="#000000"/>
<rect x="1166" y="24" width="1" height="367" fill="#000000"/>
<rect x="1166" y="392" width="1" height="68" fill="#000000"/>
<rect x="1166" y="461" width="1" height="70" fill="#000000"/>
<rect x="3" y="390" width="1164" height="1" fill="#000000"/>
<rect x="3" y="392" width="1164" height="1" fill="#000000"/>
<rect x="3" y="459" width="1164" height="1" fill="#000000"/>
<rect x="3" y="461" width="1164" height="1" fill="#000000"/>
<rect x="3" y="530" width="1164" height="1" fill="#000000"/>
<rect x="1167" y="57" width="2" height="1" fill="#000000"/>
<text x="1172.6" y="61" font-size="9.5" fill="#000">1.23200</text>
<rect x="1167" y="90" width="2" height="1" fill="#000000"/>
<text x="1172.6" y="94" font-size="9.5" fill="#000">1.22585</text>
<rect x="1167" y="123" width="2" height="1" fill="#000000"/>
<text x="1172.6" y="127" font-size="9.5" fill="#000">1.21955</text>
<rect x="1167" y="156" width="2" height="1" fill="#000000"/>
<text x="1172.6" y="160" font-size="9.5" fill="#000">1.21325</text>
<rect x="1167" y="189" width="2" height="1" fill="#000000"/>
<text x="1172.6" y="193" font-size="9.5" fill="#000">1.20695</text>
<rect x="1167" y="222" width="2" height="1" fill="#000000"/>
<text x="1172.6" y="226" font-size="9.5" fill="#000">1.20065</text>
<rect x="1167" y="255" width="2" height="1" fill="#000000"/>
<text x="1172.6" y="259" font-size="9.5" fill="#000">1.19435</text>
<rect x="1167" y="288" width="2" height="1" fill="#000000"/>
<text x="1172.6" y="292" font-size="9.5" fill="#000">1.18805</text>
<rect x="1167" y="321" width="2" height="1" fill="#000000"/>
<text x="1172.6" y="325" font-size="9.5" fill="#000">1.18175</text>
<rect x="1167" y="354" width="2" height="1" fill="#000000"/>
<text x="1172.6" y="358" font-size="9.5" fill="#000">1.17545</text>
<rect x="1167" y="387" width="2" height="1" fill="#000000"/>
<text x="1172.6" y="391" font-size="9.5" fill="#000">1.16915</text>
<rect x="1168" y="114" width="37" height="11" fill="#ff0000"/>
<text x="1172.6" y="123" font-size="9.5" fill="#ffffff">1.22004</text>
<rect x="1168" y="149" width="37" height="11" fill="#000000"/>
<text x="1172.6" y="158" font-size="9.5" fill="#ffffff">1.21367</text>
<rect x="1168" y="166" width="37" height="11" fill="#ff0000"/>
<text x="1172.6" y="175" font-size="9.5" fill="#ffffff">1.21015</text>
<rect x="1168" y="219" width="37" height="11" fill="#00ff00"/>
<text x="1172.6" y="228" font-size="9.5" fill="#ffffff">1.20007</text>
<rect x="1168" y="272" width="37" height="11" fill="#0000ff"/>
<text x="1172.6" y="281" font-size="9.5" fill="#ffffff">1.19000</text>
<rect x="1168" y="324" width="37" height="11" fill="#0000ff"/>
<text x="1172.6" y="333" font-size="9.5" fill="#ffffff">1.18011</text>
<rect x="4" y="402" width="2" height="25" fill="#c0c0c0"/>
<rect x="11" y="401" width="3" height="26" fill="#c0c0c0"/>
<rect x="19" y="401" width="3" height="26" fill="#c0c0c0"/>
<rect x="27" y="401" width="3" height="26" fill="#c0c0c0"/>
<rect x="35" y="401" width="3" height="26" fill="#c0c0c0"/>
<rect x="43" y="402" width="3" height="25" fill="#c0c0c0"/>
<rect x="51" y="403" width="3" height="24" fill="#c0c0c0"/>
<rect x="59" y="403" width="3" height="24" fill="#c0c0c0"/>
<rect x="67" y="404" width="3" height="23" fill="#c0c0c0"/>
<rect x="75" y="405" width="3" height="22" fill="#c0c0c0"/>
<rect x="83" y="408" width="3" height="19" fill="#c0c0c0"/>
<rect x="91" y="412" width="3" height="15" fill="#c0c0c0"/>
<rect x="99" y="415" width="3" height="12" fill="#c0c0c0"/>
<rect x="107" y="418" width="3" height="9" fill="#c0c0c0"/>
<rect x="115" y="421" width="3" height="6" fill="#c0c0c0"/>
<rect x="123" y="425" width="3" height="2" fill="#c0c0c0"/>
<rect x="131" y="427" width="3" height="2" fill="#c0c0c0"/>
<rect x="139" y="427" width="3" height="5" fill="#c0c0c0"/>
<rect x="147" y="427" width="3" height="6" fill="#c0c0c0"/>
<rect x="155" y="427" width="3" height="7" fill="#c0c0c0"/>
<rect x="163" y="427" width="3" height="6" fill="#c0c0c0"/>
<rect x="171" y="427" width="3" height="4" fill="#c0c0c0"/>
<rect x="179" y="427" width="3" height="4" fill="#c0c0c0"/>
<rect x="187" y="427" width="3" height="3" fill="#c0c0c0"/>
<rect x="195" y="427" width="3" height="3" fill="#c0c0c0"/>
<rect x="203" y="427" width="3" height="4" fill="#c0c0c0"/>
<rect x="211" y="427" width="3" height="4" fill="#c0c0c0"/>
<rect x="219" y="427" width="3" height="4" fill="#c0c0c0"/>
<rect x="227" y="427" width="3" height="4" fill="#c0c0c0"/>
<rect x="235" y="427" width="3" height="6" fill="#c0c0c0"/>
<rect x="243" y="427" width="3" height="9" fill="#c0c0c0"/>
<rect x="251" y="427" width="3" height="12" fill="#c0c0c0"/>
<rect x="259" y="427" width="3" height="15" fill="#c0c0c0"/>
<rect x="267" y="427" width="3" height="16" fill="#c0c0c0"/>
<rect x="275" y="427" width="3" height="16" fill="#c0c0c0"/>
<rect x="283" y="427" width="3" height="15" fill="#c0c0c0"/>
<rect x="291" y="427" width="3" height="13" fill="#c0c0c0"/>
<rect x="299" y="427" width="3" height="10" fill="#c0c0c0"/>
<rect x="307" y="427" width="3" height="8" fill="#c0c0c0"/>
<rect x="315" y="427" width="3" height="6" fill="#c0c0c0"/>
<rect x="323" y="427" width="3" height="5" fill="#c0c0c0"/>
<rect x="331" y="427" width="3" height="4" fill="#c0c0c0"/>
<rect x="339" y="427" width="3" height="3" fill="#c0c0c0"/>
<rect x="347" y="427" width="3" height="5" fill="#c0c0c0"/>
<rect x="355" y="427" width="3" height="5" fill="#c0c0c0"/>
<rect x="363" y="427" width="3" height="4" fill="#c0c0c0"/>
<rect x="371" y="427" width="3" height="3" fill="#c0c0c0"/>
<rect x="379" y="427" width="3" height="1" fill="#c0c0c0"/>
<rect x="387" y="426" width="3" height="1" fill="#c0c0c0"/>
<rect x="395" y="425" width="3" height="2" fill="#c0c0c0"/>
<rect x="403" y="422" width="3" height="5" fill="#c0c0c0"/>
<rect x="411" y="422" width="3" height="5" fill="#c0c0c0"/>
<rect x="419" y="424" width="3" height="3" fill="#c0c0c0"/>
<rect x="427" y="427" width="3" height="1" fill="#c0c0c0"/>
<rect x="435" y="427" width="3" height="3" fill="#c0c0c0"/>
<rect x="443" y="427" width="3" height="3" fill="#c0c0c0"/>
<rect x="451" y="427" width="3" height="5" fill="#c0c0c0"/>
<rect x="459" y="427" width="3" height="11" fill="#c0c0c0"/>
<rect x="467" y="427" width="3" height="15" fill="#c0c0c0"/>
<rect x="475" y="427" width="3" height="20" fill="#c0c0c0"/>
<rect x="483" y="427" width="3" height="23" fill="#c0c0c0"/>
<rect x="491" y="427" width="3" height="24" fill="#c0c0c0"/>
<rect x="499" y="427" width="3" height="23" fill="#c0c0c0"/>
<rect x="507" y="427" width="3" height="23" fill="#c0c0c0"/>
<rect x="515" y="427" width="3" height="22" fill="#c0c0c0"/>
<rect x="523" y="427" width="3" height="22" fill="#c0c0c0"/>
<rect x="531" y="427" width="3" height="22" fill="#c0c0c0"/>
<rect x="539" y="427" width="3" height="21" fill="#c0c0c0"/>
<rect x="547" y="427" width="3" height="21" fill="#c0c0c0"/>
<rect x="555" y="427" width="3" height="21" fill="#c0c0c0"/>
<rect x="563" y="427" width="3" height="20" fill="#c0c0c0"/>
<rect x="571" y="427" width="3" height="19" fill="#c0c0c0"/>
<rect x="579" y="427" width="3" height="19" fill="#c0c0c0"/>
<rect x="587" y="427" width="3" height="20" fill="#c0c0c0"/>
<rect x="595" y="427" width="3" height="24" fill="#c0c0c0"/>
<rect x="603" y="427" width="3" height="25" fill="#c0c0c0"/>
<rect x="611" y="427" width="3" height="26" fill="#c0c0c0"/>
<rect x="619" y="427" width="3" height="27" fill="#c0c0c0"/>
<rect x="627" y="427" width="3" height="29" fill="#c0c0c0"/>
<rect x="635" y="427" width="3" height="30" fill="#c0c0c0"/>
<rect x="643" y="427" width="3" height="29" fill="#c0c0c0"/>
<rect x="651" y="427" width="3" height="28" fill="#c0c0c0"/>
<rect x="659" y="427" width="3" height="27" fill="#c0c0c0"/>
<rect x="667" y="427" width="3" height="25" fill="#c0c0c0"/>
<rect x="675" y="427" width="3" height="21" fill="#c0c0c0"/>
<rect x="683" y="427" width="3" height="17" fill="#c0c0c0"/>
<rect x="691" y="427" width="3" height="13" fill="#c0c0c0"/>
<rect x="699" y="427" width="3" height="10" fill="#c0c0c0"/>
<rect x="707" y="427" width="3" height="8" fill="#c0c0c0"/>
<rect x="715" y="427" width="3" height="5" fill="#c0c0c0"/>
<rect x="723" y="427" width="3" height="3" fill="#c0c0c0"/>
<rect x="731" y="425" width="3" height="2" fill="#c0c0c0"/>
<rect x="739" y="423" width="3" height="4" fill="#c0c0c0"/>
<rect x="747" y="421" width="3" height="6" fill="#c0c0c0"/>
<rect x="755" y="419" width="3" height="8" fill="#c0c0c0"/>
<rect x="763" y="416" width="3" height="11" fill="#c0c0c0"/>
<rect x="771" y="413" width="3" height="14" fill="#c0c0c0"/>
<rect x="779" y="412" width="3" height="15" fill="#c0c0c0"/>
<rect x="787" y="412" width="3" height="15" fill="#c0c0c0"/>
<rect x="795" y="410" width="3" height="17" fill="#c0c0c0"/>
<rect x="803" y="408" width="3" height="19" fill="#c0c0c0"/>
<rect x="811" y="406" width="3" height="21" fill="#c0c0c0"/>
<rect x="819" y="406" width="3" height="21" fill="#c0c0c0"/>
<rect x="827" y="405" width="3" height="22" fill="#c0c0c0"/>
<rect x="835" y="404" width="3" height="23" fill="#c0c0c0"/>
<rect x="843" y="407" width="3" height="20" fill="#c0c0c0"/>
<rect x="851" y="409" width="3" height="18" fill="#c0c0c0"/>
<rect x="859" y="410" width="3" height="17" fill="#c0c0c0"/>
<rect x="867" y="412" width="3" height="15" fill="#c0c0c0"/>
<rect x="875" y="414" width="3" height="13" fill="#c0c0c0"/>
<rect x="883" y="415" width="3" height="12" fill="#c0c0c0"/>
<rect x="891" y="412" width="3" height="15" fill="#c0c0c0"/>
<rect x="899" y="409" width="3" height="18" fill="#c0c0c0"/>
<rect x="907" y="407" width="3" height="20" fill="#c0c0c0"/>
<rect x="915" y="407" width="3" height="20" fill="#c0c0c0"/>
<g shape-rendering="crispEdges">
<path d="M3 396h5v1h-5zM8 397h8v1h-8zM16 398h7v1h-7zM23 399h7v1h-7zM30 400h6v1h-6zM36 401h8v1h-8zM44 402h12v1h-12zM56 403h29v1h-29zM84 404h7v1h-7zM91 405h6v1h-6zM97 406h5v1h-5zM102 407h5v1h-5zM846 407h27v1h-27zM107 408h4v1h-4zM833 408h13v1h-13zM873 408h8v1h-8zM111 409h5v1h-5zM828 409h5v1h-5zM881 409h8v1h-8zM116 410h4v1h-4zM822 410h6v1h-6zM889 410h25v1h-25zM120 411h3v1h-3zM817 411h5v1h-5zM914 411h2v1h-2zM123 412h3v1h-3zM812 412h5v1h-5zM126 413h3v1h-3zM808 413h4v1h-4zM129 414h3v1h-3zM804 414h4v1h-4zM132 415h3v1h-3zM801 415h3v1h-3zM135 416h3v1h-3zM796 416h5v1h-5zM138 417h3v1h-3zM791 417h5v1h-5zM141 418h3v1h-3zM787 418h5v1h-5zM144 419h3v1h-3zM783 419h4v1h-4zM147 420h2v1h-2zM779 420h4v1h-4zM149 421h3v1h-3zM775 421h4v1h-4zM152 422h3v1h-3zM772 422h3v1h-3zM155 423h2v1h-2zM770 423h2v1h-2zM157 424h2v1h-2zM767 424h3v1h-3zM159 425h4v1h-4zM765 425h3v1h-3zM163 426h5v1h-5zM414 426h45v1h-45zM762 426h3v1h-3zM168 427h3v1h-3zM408 427h6v1h-6zM459 427h5v1h-5zM760 427h2v1h-2zM171 428h6v1h-6zM401 428h7v1h-7zM464 428h4v1h-4zM757 428h3v1h-3zM177 429h8v1h-8zM381 429h20v1h-20zM468 429h2v1h-2zM752 429h6v1h-6zM185 430h7v1h-7zM376 430h5v1h-5zM470 430h3v1h-3zM748 430h4v1h-4zM192 431h57v1h-57zM356 431h20v1h-20zM473 431h2v1h-2zM745 431h3v1h-3zM249 432h9v1h-9zM350 432h6v1h-6zM475 432h4v1h-4zM742 432h3v1h-3zM258 433h6v1h-6zM344 433h6v1h-6zM479 433h2v1h-2zM739 433h3v1h-3zM264 434h5v1h-5zM338 434h7v1h-7zM481 434h2v1h-2zM736 434h3v1h-3zM269 435h6v1h-6zM333 435h5v1h-5zM483 435h3v1h-3zM734 435h2v1h-2zM275 436h7v1h-7zM328 436h5v1h-5zM486 436h3v1h-3zM731 436h3v1h-3zM282 437h10v1h-10zM318 437h10v1h-10zM489 437h3v1h-3zM728 437h3v1h-3zM292 438h13v1h-13zM312 438h6v1h-6zM492 438h4v1h-4zM726 438h3v1h-3zM305 439h7v1h-7zM496 439h4v1h-4zM724 439h2v1h-2zM499 440h5v1h-5zM722 440h2v1h-2zM504 441h4v1h-4zM719 441h3v1h-3zM508 442h3v1h-3zM717 442h3v1h-3zM511 443h4v1h-4zM715 443h2v1h-2zM515 444h4v1h-4zM712 444h3v1h-3zM519 445h5v1h-5zM710 445h2v1h-2zM524 446h6v1h-6zM706 446h4v1h-4zM530 447h6v1h-6zM568 447h42v1h-42zM701 447h5v1h-5zM536 448h32v1h-32zM610 448h16v1h-16zM697 448h4v1h-4zM626 449h8v1h-8zM693 449h4v1h-4zM634 450h7v1h-7zM689 450h4v1h-4zM641 451h8v1h-8zM686 451h3v1h-3zM649 452h8v1h-8zM682 452h4v1h-4zM657 453h25v1h-25z" fill="#ff0000"/>
</g>
<text x="8.5" y="404.6" font-size="9.5" fill="#000" textLength="147" lengthAdjust="spacingAndGlyphs">MACD(12,26,9) 0.004888 0.004054</text>
<text x="1170.5" y="403.2" font-size="9.5" fill="#000">0.00823</text>
<text x="1170.5" y="430.8" font-size="9.5" fill="#000">0.00</text>
<text x="1170.5" y="456.2" font-size="9.5" fill="#000">-0.00771</text>
<rect x="1167" y="427" width="2" height="1" fill="#000000"/>
<rect x="1167" y="393" width="1" height="1" fill="#000000"/>
<rect x="1167" y="458" width="1" height="1" fill="#000000"/>
<rect x="1167" y="463" width="1" height="1" fill="#000000"/>
<line x1="5" y1="483.5" x2="1166" y2="483.5" stroke="#c0c0c0" stroke-width="1" stroke-dasharray="3,3"/>
<line x1="5" y1="509.5" x2="1166" y2="509.5" stroke="#c0c0c0" stroke-width="1" stroke-dasharray="3,3"/>
<g shape-rendering="crispEdges">
<path d="M18 480h3v1h-3zM16 481h2v1h-2zM21 481h1v1h-1zM14 482h2v1h-2zM22 482h2v1h-2zM798 482h12v1h-12zM831 482h6v1h-6zM10 483h4v1h-4zM23 483h1v1h-1zM768 483h9v1h-9zM795 483h3v1h-3zM810 483h7v1h-7zM824 483h7v1h-7zM837 483h1v1h-1zM5 484h5v1h-5zM24 484h1v1h-1zM762 484h6v1h-6zM777 484h6v1h-6zM793 484h2v1h-2zM817 484h7v1h-7zM838 484h1v1h-1zM904 484h6v1h-6zM4 485h1v1h-1zM25 485h1v1h-1zM760 485h2v1h-2zM783 485h2v1h-2zM791 485h2v1h-2zM838 485h1v1h-1zM892 485h12v1h-12zM910 485h2v1h-2zM26 486h1v1h-1zM47 486h15v1h-15zM758 486h2v1h-2zM785 486h2v1h-2zM789 486h2v1h-2zM839 486h1v1h-1zM891 486h1v1h-1zM912 486h2v1h-2zM27 487h2v1h-2zM43 487h4v1h-4zM62 487h3v1h-3zM730 487h6v1h-6zM745 487h13v1h-13zM787 487h2v1h-2zM840 487h1v1h-1zM889 487h2v1h-2zM914 487h2v1h-2zM29 488h2v1h-2zM40 488h3v1h-3zM65 488h2v1h-2zM404 488h1v1h-1zM728 488h2v1h-2zM736 488h2v1h-2zM742 488h3v1h-3zM841 488h1v1h-1zM888 488h1v1h-1zM31 489h4v1h-4zM38 489h2v1h-2zM67 489h11v1h-11zM403 489h1v1h-1zM405 489h2v1h-2zM726 489h2v1h-2zM738 489h4v1h-4zM842 489h1v1h-1zM887 489h1v1h-1zM35 490h3v1h-3zM78 490h3v1h-3zM402 490h1v1h-1zM407 490h1v1h-1zM721 490h5v1h-5zM843 490h1v1h-1zM858 490h4v1h-4zM886 490h1v1h-1zM81 491h2v1h-2zM400 491h2v1h-2zM408 491h1v1h-1zM718 491h3v1h-3zM843 491h1v1h-1zM855 491h3v1h-3zM862 491h1v1h-1zM885 491h1v1h-1zM83 492h1v1h-1zM383 492h7v1h-7zM399 492h1v1h-1zM409 492h1v1h-1zM712 492h6v1h-6zM844 492h5v1h-5zM853 492h2v1h-2zM863 492h2v1h-2zM883 492h2v1h-2zM84 493h1v1h-1zM377 493h6v1h-6zM390 493h3v1h-3zM398 493h1v1h-1zM410 493h1v1h-1zM685 493h27v1h-27zM849 493h4v1h-4zM865 493h2v1h-2zM881 493h2v1h-2zM85 494h2v1h-2zM169 494h10v1h-10zM297 494h16v1h-16zM328 494h10v1h-10zM362 494h7v1h-7zM375 494h2v1h-2zM393 494h2v1h-2zM397 494h1v1h-1zM411 494h1v1h-1zM682 494h3v1h-3zM867 494h1v1h-1zM879 494h2v1h-2zM87 495h1v1h-1zM166 495h3v1h-3zM179 495h4v1h-4zM194 495h4v1h-4zM294 495h3v1h-3zM313 495h15v1h-15zM338 495h3v1h-3zM360 495h2v1h-2zM369 495h6v1h-6zM395 495h2v1h-2zM412 495h2v1h-2zM679 495h3v1h-3zM868 495h4v1h-4zM876 495h3v1h-3zM88 496h1v1h-1zM163 496h3v1h-3zM182 496h3v1h-3zM191 496h3v1h-3zM198 496h1v1h-1zM217 496h10v1h-10zM292 496h2v1h-2zM341 496h1v1h-1zM359 496h1v1h-1zM414 496h2v1h-2zM677 496h2v1h-2zM872 496h4v1h-4zM89 497h2v1h-2zM161 497h2v1h-2zM185 497h2v1h-2zM189 497h2v1h-2zM199 497h1v1h-1zM213 497h4v1h-4zM227 497h3v1h-3zM290 497h2v1h-2zM342 497h1v1h-1zM357 497h2v1h-2zM416 497h2v1h-2zM675 497h2v1h-2zM91 498h1v1h-1zM104 498h8v1h-8zM160 498h1v1h-1zM187 498h2v1h-2zM200 498h2v1h-2zM209 498h4v1h-4zM230 498h2v1h-2zM288 498h2v1h-2zM343 498h1v1h-1zM355 498h2v1h-2zM418 498h2v1h-2zM440 498h7v1h-7zM673 498h2v1h-2zM92 499h12v1h-12zM112 499h3v1h-3zM147 499h4v1h-4zM158 499h2v1h-2zM202 499h1v1h-1zM207 499h2v1h-2zM232 499h2v1h-2zM287 499h1v1h-1zM344 499h2v1h-2zM353 499h2v1h-2zM420 499h4v1h-4zM432 499h8v1h-8zM447 499h2v1h-2zM671 499h2v1h-2zM115 500h2v1h-2zM146 500h1v1h-1zM151 500h3v1h-3zM157 500h1v1h-1zM203 500h1v1h-1zM206 500h1v1h-1zM234 500h2v1h-2zM285 500h2v1h-2zM346 500h1v1h-1zM351 500h2v1h-2zM424 500h8v1h-8zM449 500h2v1h-2zM570 500h4v1h-4zM669 500h2v1h-2zM117 501h3v1h-3zM144 501h2v1h-2zM154 501h3v1h-3zM204 501h2v1h-2zM236 501h2v1h-2zM272 501h13v1h-13zM347 501h1v1h-1zM349 501h2v1h-2zM451 501h2v1h-2zM500 501h6v1h-6zM512 501h8v1h-8zM546 501h7v1h-7zM566 501h4v1h-4zM574 501h2v1h-2zM668 501h1v1h-1zM120 502h2v1h-2zM143 502h1v1h-1zM238 502h2v1h-2zM269 502h3v1h-3zM348 502h1v1h-1zM453 502h2v1h-2zM498 502h2v1h-2zM506 502h6v1h-6zM520 502h2v1h-2zM543 502h3v1h-3zM553 502h13v1h-13zM576 502h2v1h-2zM666 502h2v1h-2zM122 503h2v1h-2zM142 503h1v1h-1zM240 503h2v1h-2zM266 503h3v1h-3zM455 503h1v1h-1zM496 503h2v1h-2zM522 503h7v1h-7zM536 503h7v1h-7zM578 503h2v1h-2zM665 503h1v1h-1zM124 504h3v1h-3zM141 504h1v1h-1zM242 504h7v1h-7zM264 504h2v1h-2zM456 504h1v1h-1zM495 504h1v1h-1zM529 504h7v1h-7zM580 504h2v1h-2zM663 504h2v1h-2zM127 505h14v1h-14zM249 505h7v1h-7zM262 505h2v1h-2zM457 505h2v1h-2zM493 505h2v1h-2zM582 505h5v1h-5zM642 505h15v1h-15zM661 505h2v1h-2zM256 506h3v1h-3zM260 506h2v1h-2zM459 506h1v1h-1zM488 506h5v1h-5zM587 506h4v1h-4zM640 506h2v1h-2zM657 506h4v1h-4zM259 507h1v1h-1zM460 507h12v1h-12zM481 507h7v1h-7zM590 507h3v1h-3zM601 507h16v1h-16zM638 507h2v1h-2zM472 508h3v1h-3zM478 508h3v1h-3zM593 508h2v1h-2zM598 508h3v1h-3zM617 508h6v1h-6zM636 508h2v1h-2zM475 509h3v1h-3zM595 509h3v1h-3zM623 509h2v1h-2zM634 509h2v1h-2zM625 510h2v1h-2zM631 510h3v1h-3zM627 511h4v1h-4z" fill="#1e90ff"/>
</g>
<text x="8.5" y="474" font-size="9.5" fill="#000" textLength="66.5" lengthAdjust="spacingAndGlyphs">RSI(14) 62.1551</text>
<text x="1170.5" y="471.9" font-size="9.5" fill="#000">100</text>
<text x="1170.5" y="486.7" font-size="9.5" fill="#000">70</text>
<text x="1170.5" y="512.9" font-size="9.5" fill="#000">30</text>
<text x="1170.5" y="527" font-size="9.5" fill="#000">0</text>
<rect x="1167" y="483" width="2" height="1" fill="#000000"/>
<rect x="1167" y="509" width="2" height="1" fill="#000000"/>
<rect x="4" y="531" width="1" height="3" fill="#000000"/>
<text x="3.4" y="542.8" font-size="9" fill="#000" textLength="52.1" lengthAdjust="spacingAndGlyphs">28 Dec 2020</text>
<rect x="68" y="531" width="1" height="3" fill="#000000"/>
<text x="67.4" y="542.8" font-size="9" fill="#000" textLength="44.6" lengthAdjust="spacingAndGlyphs">7 Jan 2021</text>
<rect x="132" y="531" width="1" height="3" fill="#000000"/>
<text x="131.4" y="542.8" font-size="9" fill="#000" textLength="49.3" lengthAdjust="spacingAndGlyphs">16 Jan 2021</text>
<rect x="196" y="531" width="1" height="3" fill="#000000"/>
<text x="195.4" y="542.8" font-size="9" fill="#000" textLength="49.5" lengthAdjust="spacingAndGlyphs">26 Jan 2021</text>
<rect x="260" y="531" width="1" height="3" fill="#000000"/>
<text x="259.4" y="542.8" font-size="9" fill="#000" textLength="46.6" lengthAdjust="spacingAndGlyphs">4 Feb 2021</text>
<rect x="324" y="531" width="1" height="3" fill="#000000"/>
<text x="323.4" y="542.8" font-size="9" fill="#000" textLength="51.5" lengthAdjust="spacingAndGlyphs">13 Feb 2021</text>
<rect x="388" y="531" width="1" height="3" fill="#000000"/>
<text x="387.4" y="542.8" font-size="9" fill="#000" textLength="52.1" lengthAdjust="spacingAndGlyphs">23 Feb 2021</text>
<rect x="452" y="531" width="1" height="3" fill="#000000"/>
<text x="451.4" y="542.8" font-size="9" fill="#000" textLength="46.1" lengthAdjust="spacingAndGlyphs">4 Mar 2021</text>
<rect x="516" y="531" width="1" height="3" fill="#000000"/>
<text x="515.4" y="542.8" font-size="9" fill="#000" textLength="51.3" lengthAdjust="spacingAndGlyphs">13 Mar 2021</text>
<rect x="580" y="531" width="1" height="3" fill="#000000"/>
<text x="579.4" y="542.8" font-size="9" fill="#000" textLength="51.1" lengthAdjust="spacingAndGlyphs">23 Mar 2021</text>
<rect x="644" y="531" width="1" height="3" fill="#000000"/>
<text x="643.4" y="542.8" font-size="9" fill="#000" textLength="45" lengthAdjust="spacingAndGlyphs">1 Apr 2021</text>
<rect x="708" y="531" width="1" height="3" fill="#000000"/>
<text x="707.4" y="542.8" font-size="9" fill="#000" textLength="50.6" lengthAdjust="spacingAndGlyphs">10 Apr 2021</text>
<rect x="772" y="531" width="1" height="3" fill="#000000"/>
<text x="771.4" y="542.8" font-size="9" fill="#000" textLength="51.2" lengthAdjust="spacingAndGlyphs">20 Apr 2021</text>
<rect x="836" y="531" width="1" height="3" fill="#000000"/>
<text x="835.4" y="542.8" font-size="9" fill="#000" textLength="51.2" lengthAdjust="spacingAndGlyphs">29 Apr 2021</text>
<rect x="900" y="531" width="1" height="3" fill="#000000"/>
<text x="899.4" y="542.8" font-size="9" fill="#000" textLength="50.6" lengthAdjust="spacingAndGlyphs">8 May 2021</text>
<rect x="0" y="551" width="1205" height="2" fill="#f2f2f2"/>
<rect x="0" y="553" width="1205" height="1" fill="#000000"/>
<rect x="0" y="554" width="1205" height="19" fill="#f0f0f0"/>
<rect x="0" y="573" width="1205" height="1" fill="#ffffff"/>
<rect x="0" y="574" width="1205" height="3" fill="#f0f0f0"/>
<rect x="0" y="577" width="1205" height="1" fill="#a8a8a8"/>
<rect x="0" y="578" width="1205" height="1" fill="#e4e4e4"/>
<rect x="0" y="554" width="1" height="18" fill="#606060"/>
<rect x="1" y="554" width="4" height="18" fill="#ececec"/>
<rect x="5" y="553" width="104" height="19" fill="#ffffff"/>
<rect x="5" y="553" width="1" height="19" fill="#000000"/>
<rect x="5" y="571" width="104" height="1" fill="#000000"/>
<rect x="108" y="553" width="1" height="19" fill="#000000"/>
<text x="17.5" y="567.6" font-size="12" fill="#000" textLength="79.5" lengthAdjust="spacingAndGlyphs">EURUSD,Daily</text>
<text x="120" y="567.6" font-size="12" fill="#7a7a7a" textLength="82" lengthAdjust="spacingAndGlyphs">AUDUSD,Daily</text>
<text x="223" y="567.6" font-size="12" fill="#7a7a7a" textLength="79" lengthAdjust="spacingAndGlyphs">USDCHF,Daily</text>
<text x="324" y="567.6" font-size="12" fill="#7a7a7a" textLength="81" lengthAdjust="spacingAndGlyphs">USDCAD,Daily</text>
<text x="427.6" y="567.6" font-size="12" fill="#7a7a7a" textLength="82.4" lengthAdjust="spacingAndGlyphs">USDCNH,Daily</text>
<text x="533" y="567.6" font-size="12" fill="#7a7a7a" textLength="52" lengthAdjust="spacingAndGlyphs">UKOil,H1</text>
<rect x="213" y="557" width="1" height="13" fill="#808080"/>
<rect x="313" y="557" width="1" height="13" fill="#808080"/>
<rect x="417" y="557" width="1" height="13" fill="#808080"/>
<rect x="522" y="557" width="1" height="13" fill="#808080"/>
<rect x="597" y="557" width="1" height="13" fill="#808080"/>
<polygon points="1185.5,558.5 1185.5,565.5 1182,562" fill="#8c8c8c" shape-rendering="auto"/>
<polygon points="1201,558.5 1201,565.5 1204.5,562" fill="#8c8c8c" shape-rendering="auto"/>
</svg>
</body></html>
